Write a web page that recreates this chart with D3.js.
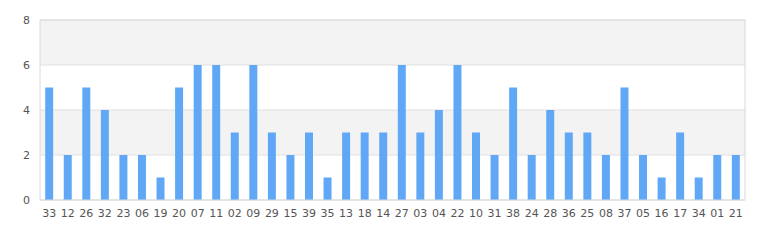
<!DOCTYPE html>
<html lang="en">
<head>
    <meta charset="UTF-8">
    <title>Bar chart</title>
    <script src="https://d3js.org/d3.v7.min.js"></script>
    <style>
        body { margin: 0; background: #fff; }
        text { font-family: "DejaVu Sans", sans-serif; font-size: 11px; fill: #555; }
    </style>
</head>
<body>
    <svg id="chart" width="775" height="240"></svg>
    <script>
        // Data
        const categories = ["33","12","26","32","23","06","19","20","07","11","02","09","29","15","39","35","13","18","14",
                            "27","03","04","22","10","31","38","24","28","36","25","08","37","05","16","17","34","01","21"];
        const values = [5,2,5,4,2,2,1,5,6,6,3,6,3,2,3,1,3,3,3,
                        6,3,4,6,3,2,5,2,4,3,3,2,5,2,1,3,1,2,2];
        const yTicks = [0, 2, 4, 6, 8];

        const svg = d3.select("#chart"),
            margin = { top: 20, right: 30, bottom: 40, left: 40 },
            width = +svg.attr("width") - margin.left - margin.right,
            height = +svg.attr("height") - margin.top - margin.bottom;

        const g = svg.append("g").attr("transform", `translate(${margin.left},${margin.top})`);

        const x = d3.scaleBand().domain(categories).range([0, width]).paddingInner(0.57).paddingOuter(0.28);
        const y = d3.scaleLinear().domain([0, 8]).range([height, 0]);

        // Alternating bands
        const bands = d3.pairs(yTicks);
        g.selectAll(".band")
            .data(bands)
            .enter().append("rect")
            .attr("x", 0)
            .attr("width", width)
            .attr("y", d => y(d[1]))
            .attr("height", d => y(d[0]) - y(d[1]))
            .attr("fill", (d, i) => i % 2 ? "#f3f3f3" : "#fff");

        // Grid lines
        g.selectAll(".grid")
            .data(yTicks)
            .enter().append("line")
            .attr("x1", 0).attr("x2", width)
            .attr("y1", d => y(d)).attr("y2", d => y(d))
            .attr("stroke", "#e0e0e0");

        // Bars
        g.selectAll(".bar")
            .data(values)
            .enter().append("rect")
            .attr("x", (d, i) => x(categories[i]))
            .attr("width", x.bandwidth())
            .attr("y", d => y(d))
            .attr("height", d => height - y(d))
            .attr("fill", "#60a8f5");

        // Border
        g.append("rect")
            .attr("width", width).attr("height", height)
            .attr("fill", "none").attr("stroke", "#d9d9d9");

        // Axes
        const yAxis = g.append("g")
            .call(d3.axisLeft(y).tickValues(yTicks).tickSize(0).tickPadding(10));
        yAxis.select(".domain").remove();

        const xAxis = g.append("g")
            .attr("transform", `translate(0,${height})`)
            .call(d3.axisBottom(x).tickSize(0).tickPadding(9));
        xAxis.select(".domain").remove();
    </script>
</body>
</html>
